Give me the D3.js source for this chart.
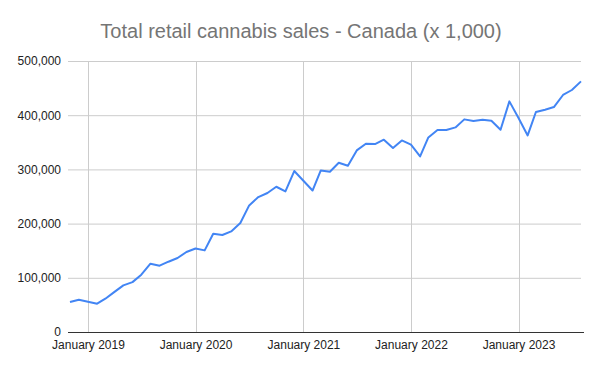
<!DOCTYPE html>
<html>
<head>
<meta charset="utf-8">
<script src="https://cdn.jsdelivr.net/npm/d3@7"></script>
<style>
  body { margin: 0; background: #fff; }
  svg { font-family: "Liberation Sans", Arial, sans-serif; }
</style>
</head>
<body>
<div id="chart"><svg></svg></div>
<script>
// monthly sales, Nov 2018 .. Aug 2023 (x 1,000)
var startMonth = "2018-11";
var sales = [
    55400, 59600, 56000, 52200, 61400, 74000, 86000, 92000, 105700, 126000,
    122300, 129700, 136500, 147600, 154000, 150600, 181400, 179000, 185600, 201000,
    233600, 249000, 256500, 268000, 259400, 297000, 279000, 261000, 298000, 295800,
    312400, 306800, 335000, 347400, 346800, 354800, 339500, 353500, 345600, 324000,
    359000, 372700, 372700, 377500, 392300, 389300, 391700, 389900, 373200, 425500,
    394800, 362700, 405900, 410000, 415000, 437300, 446500, 462400
];
var yTicks = [0, 100000, 200000, 300000, 400000, 500000];
var xTickLabels = ["January 2019", "January 2020", "January 2021", "January 2022", "January 2023"];
var title = "Total retail cannabis sales - Canada (x 1,000)";

var width = 600,
    height = 371,
    margin = {top: 61, right: 19, bottom: 39, left: 70};

var parseMonth = d3.timeParse("%Y-%m");
var start = parseMonth(startMonth);
var data = sales.map(function(v, i) {
    return {date: d3.timeMonth.offset(start, i), value: v};
});

var svg = d3.select("#chart svg")
    .attr("width", width)
    .attr("height", height);

var x = d3.scaleTime()
    .domain(d3.extent(data, d => d.date))
    .range([margin.left, width - margin.right]);

var y = d3.scaleLinear()
    .domain([0, 500000])
    .range([height - margin.bottom, margin.top]);

var xTickDates = xTickLabels.map(function(s) {
    return d3.timeParse("%B %Y")(s);
});

// gridlines
svg.append("g")
    .selectAll("line.h")
    .data(yTicks.slice(1))
    .enter().append("line")
        .attr("x1", margin.left - 2)
        .attr("x2", width - margin.right)
        .attr("y1", d => y(d) + 0.5)
        .attr("y2", d => y(d) + 0.5)
        .style("stroke", "#cccccc");

svg.append("g")
    .selectAll("line.v")
    .data(xTickDates)
    .enter().append("line")
        .attr("x1", d => Math.round(x(d)) + 0.5)
        .attr("x2", d => Math.round(x(d)) + 0.5)
        .attr("y1", margin.top)
        .attr("y2", height - margin.bottom)
        .style("stroke", "#cccccc");

// y axis labels
var yAxis = svg.append("g")
    .attr("transform", "translate(" + (margin.left - 6) + ",0)")
    .call(d3.axisLeft(y).tickValues(yTicks).tickSize(0).tickFormat(d3.format(",")));
yAxis.select(".domain").remove();
yAxis.selectAll("text")
    .style("font-size", "12px")
    .style("fill", "#222")
    .attr("dx", 0);

// x axis labels
var xAxis = svg.append("g")
    .attr("transform", "translate(0," + (height - margin.bottom) + ")")
    .call(d3.axisBottom(x).tickValues(xTickDates).tickSize(0).tickFormat(d3.timeFormat("%B %Y")));
xAxis.select(".domain").remove();
xAxis.selectAll("text")
    .style("font-size", "12px")
    .style("fill", "#222")
    .attr("dy", "1.15em");

// baseline
svg.append("line")
    .attr("x1", margin.left - 2)
    .attr("x2", width - margin.right + 3)
    .attr("y1", y(0) + 0.5)
    .attr("y2", y(0) + 0.5)
    .style("stroke", "#333333");

// the line
var line = d3.line()
    .x(d => x(d.date))
    .y(d => y(d.value));

svg.append("path")
    .datum(data)
    .attr("d", line)
    .style("fill", "none")
    .style("stroke", "#4285f4")
    .style("stroke-width", 2)
    .style("stroke-linejoin", "round");

// title
svg.append("text")
    .attr("x", 301)
    .attr("y", 38)
    .attr("text-anchor", "middle")
    .style("font-size", "20px")
    .style("fill", "#757575")
    .text(title);
</script>
</body>
</html>
